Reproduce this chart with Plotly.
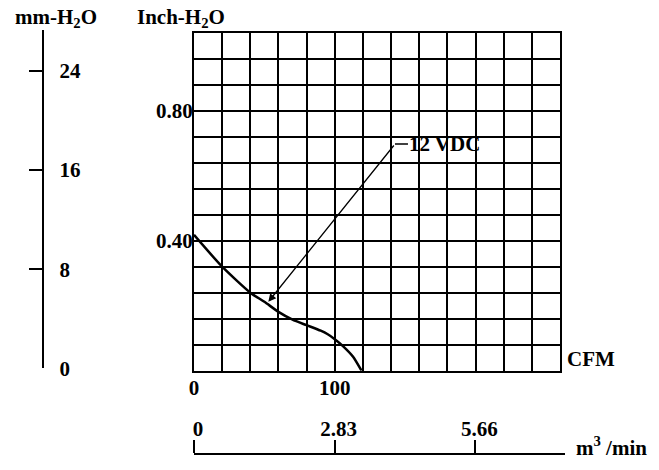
import plotly.graph_objects as go

# ---- data ----
cfm = [0, 20, 40, 50, 60, 70, 80, 90, 95, 100, 106, 113, 119]
inch_h2o = [0.418, 0.32, 0.240, 0.212, 0.181, 0.157, 0.140, 0.123, 0.112, 0.097, 0.075, 0.043, 0.0]

cfm_tickvals = [0, 100]
cfm_ticktext = ["0", "100"]
inch_tickvals = [0.40, 0.80]
inch_ticktext = ["0.40", "0.80"]
mm_tickvals = [0, 8, 16, 24]
mm_ticktext = ["0", "8", "16", "24"]
m3_tickvals = [0, 2.83, 5.66]
m3_ticktext = ["0", "2.83", "5.66"]

series_label = "12 VDC"
arrow_tip = (52.8, 0.212)
arrow_tail = (142.8, 0.6975)
label_pos = (152.0, 0.6975)

W, H = 659, 470
def px_x(p):
    return p / W
def px_y(p):
    return 1 - p / H

FONT = dict(family="Liberation Serif", size=21, color="black", weight="bold")

fig = go.Figure()

fig.add_trace(go.Scatter(
    x=cfm, y=inch_h2o, mode="lines",
    line=dict(color="black", width=2.5, shape="spline", smoothing=0.6),
    hoverinfo="skip", showlegend=False, xaxis="x", yaxis="y"))

# invisible carrier traces for the auxiliary axes
fig.add_trace(go.Scatter(x=[0] * len(mm_tickvals), y=mm_tickvals, mode="markers",
                         marker=dict(opacity=0), hoverinfo="skip", showlegend=False,
                         xaxis="x3", yaxis="y2"))
fig.add_trace(go.Scatter(x=m3_tickvals, y=[0.5] * len(m3_tickvals), mode="markers",
                         marker=dict(opacity=0), hoverinfo="skip", showlegend=False,
                         xaxis="x2", yaxis="y3"))

fig.update_layout(
    width=W, height=H,
    margin=dict(l=0, r=0, t=0, b=0, autoexpand=False),
    paper_bgcolor="white", plot_bgcolor="white",
    font=FONT, showlegend=False,
    xaxis=dict(
        domain=[px_x(194), px_x(560)], range=[0, 260], anchor="y",
        tickvals=cfm_tickvals, ticktext=cfm_ticktext, ticks="",
        showgrid=True, gridcolor="black", gridwidth=2,
        minor=dict(dtick=20, tick0=0, showgrid=True, gridcolor="black", gridwidth=2),
        showline=True, mirror=True, linecolor="black", linewidth=2,
        zeroline=False, ticklabelstandoff=-3, fixedrange=True, automargin=False),
    yaxis=dict(
        domain=[px_y(370.7), px_y(32.7)], range=[0, 1.04], anchor="x",
        tickvals=inch_tickvals, ticktext=inch_ticktext, ticks="",
        showgrid=True, gridcolor="black", gridwidth=2,
        minor=dict(dtick=0.08, tick0=0, showgrid=True, gridcolor="black", gridwidth=2),
        showline=True, mirror=True, linecolor="black", linewidth=2,
        zeroline=False, ticklabelstandoff=-5, fixedrange=True, automargin=False),
    yaxis2=dict(
        domain=[px_y(368.3), px_y(30)], range=[0, 27.3],
        anchor="free", position=px_x(43.3), side="right",
        tickvals=mm_tickvals, ticktext=mm_ticktext,
        ticks="inside", ticklen=13, tickwidth=2, tickcolor="black",
        showline=True, linecolor="black", linewidth=2,
        showgrid=False, zeroline=False, ticklabelstandoff=11, fixedrange=True,
        automargin=False),
    xaxis3=dict(domain=[0, 0.01], range=[0, 1], visible=False, anchor="y2",
                automargin=False),
    xaxis2=dict(
        domain=[px_x(194), px_x(565)], range=[0, 7.46], anchor="y3", side="top",
        tickvals=m3_tickvals, ticktext=m3_ticktext,
        ticks="outside", ticklen=13, tickwidth=2, tickcolor="black",
        showline=True, linecolor="black", linewidth=2,
        showgrid=False, zeroline=False, ticklabelshift=4, ticklabelstandoff=-4,
        fixedrange=True, automargin=False),
    yaxis3=dict(domain=[0, px_y(455)], range=[0, 1], visible=False, anchor="x2",
                automargin=False),
)

annotations = [
    dict(text="mm-H<sub>2</sub>O", x=px_x(13), y=px_y(18), xref="paper", yref="paper",
         xanchor="left", yanchor="middle", showarrow=False),
    dict(text="Inch-H<sub>2</sub>O", x=px_x(135), y=px_y(18), xref="paper", yref="paper",
         xanchor="left", yanchor="middle", showarrow=False),
    dict(text="CFM", x=px_x(565), y=px_y(359), xref="paper", yref="paper",
         xanchor="left", yanchor="middle", showarrow=False),
    dict(text="m<sup>3</sup> /min", x=px_x(574), y=px_y(446), xref="paper", yref="paper",
         xanchor="left", yanchor="middle", showarrow=False),
    dict(text="", x=arrow_tip[0], y=arrow_tip[1], xref="x", yref="y",
         ax=arrow_tail[0], ay=arrow_tail[1], axref="x", ayref="y",
         showarrow=True, arrowhead=2, arrowsize=1.2, arrowwidth=1.3, arrowcolor="black"),
    dict(text=series_label, x=label_pos[0], y=label_pos[1], xref="x", yref="y",
         xanchor="left", yanchor="middle", showarrow=False, borderpad=0),
]
fig.update_layout(annotations=annotations)

fig.add_shape(type="line", xref="x", yref="y",
              x0=arrow_tail[0], y0=arrow_tail[1], x1=label_pos[0], y1=label_pos[1],
              line=dict(color="black", width=1.5))

fig.write_html("out.html")
